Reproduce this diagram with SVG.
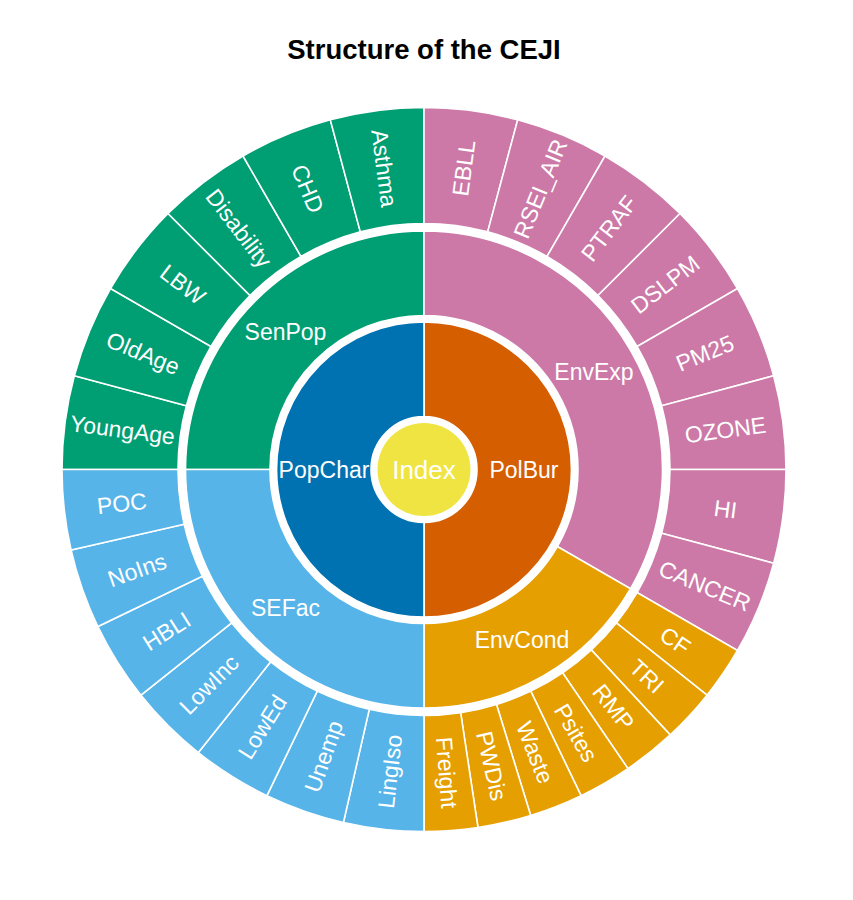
<svg xmlns="http://www.w3.org/2000/svg" xmlns:xlink="http://www.w3.org/1999/xlink" width="853" height="900" viewBox="0 0 853 900">
<style>
.t{font-family:"Liberation Sans",Arial,Helvetica,sans-serif;fill:#fff;text-anchor:middle;font-size:23px}
.s{stroke:#fff;stroke-width:1.6;stroke-linejoin:miter}
.g{fill:#009E73}.p{fill:#CC79A7}.b{fill:#56B4E9}.o{fill:#E69F00}
.title{font-family:"Liberation Sans",Arial,Helvetica,sans-serif;font-weight:bold;font-size:27.5px;fill:#000;text-anchor:middle}
</style>
<defs>
<path id="w15" d="M424,107.5 A362,362 0 0 1 517.692,119.835 L487.669,231.882 A246,246 0 0 0 424,223.5 Z"/>
<path id="w13" d="M424,107.5 A362,362 0 0 1 504.553,116.576 L478.740,229.668 A246,246 0 0 0 424,223.5 Z"/>
<path id="w9" d="M424,107.5 A362,362 0 0 1 477.953,111.543 L460.664,226.248 A246,246 0 0 0 424,223.5 Z"/>
</defs>
<rect width="853" height="900" fill="#fff"/>
<text class="title" x="424" y="59">Structure of the CEJI</text>

<g id="ring4">
<g id="YoungAge"><use href="#w15" class="g s" transform="rotate(270 424 469.5)"/><text class="t" dy="0.35em" transform="rotate(277.5 424 469.5) translate(424 165.5) rotate(90)">YoungAge</text></g>
<g id="OldAge"><use href="#w15" class="g s" transform="rotate(285 424 469.5)"/><text class="t" dy="0.35em" transform="rotate(292.5 424 469.5) translate(424 165.5) rotate(90)">OldAge</text></g>
<g id="LBW"><use href="#w15" class="g s" transform="rotate(300 424 469.5)"/><text class="t" dy="0.35em" transform="rotate(307.5 424 469.5) translate(424 165.5) rotate(90)">LBW</text></g>
<g id="Disability"><use href="#w15" class="g s" transform="rotate(315 424 469.5)"/><text class="t" dy="0.35em" transform="rotate(322.5 424 469.5) translate(424 165.5) rotate(90)">Disability</text></g>
<g id="CHD"><use href="#w15" class="g s" transform="rotate(330 424 469.5)"/><text class="t" dy="0.35em" transform="rotate(337.5 424 469.5) translate(424 165.5) rotate(90)">CHD</text></g>
<g id="Asthma"><use href="#w15" class="g s" transform="rotate(345 424 469.5)"/><text class="t" dy="0.35em" transform="rotate(352.5 424 469.5) translate(424 165.5) rotate(90)">Asthma</text></g>

<g id="EBLL"><use href="#w15" class="p s" transform="rotate(0 424 469.5)"/><text class="t" dy="0.35em" transform="rotate(7.5 424 469.5) translate(424 165.5) rotate(-90)">EBLL</text></g>
<g id="RSEI_AIR"><use href="#w15" class="p s" transform="rotate(15 424 469.5)"/><text class="t" dy="0.35em" transform="rotate(22.5 424 469.5) translate(424 165.5) rotate(-90)">RSEI_AIR</text></g>
<g id="PTRAF"><use href="#w15" class="p s" transform="rotate(30 424 469.5)"/><text class="t" dy="0.35em" transform="rotate(37.5 424 469.5) translate(424 165.5) rotate(-90)">PTRAF</text></g>
<g id="DSLPM"><use href="#w15" class="p s" transform="rotate(45 424 469.5)"/><text class="t" dy="0.35em" transform="rotate(52.5 424 469.5) translate(424 165.5) rotate(-90)">DSLPM</text></g>
<g id="PM25"><use href="#w15" class="p s" transform="rotate(60 424 469.5)"/><text class="t" dy="0.35em" transform="rotate(67.5 424 469.5) translate(424 165.5) rotate(-90)">PM25</text></g>
<g id="OZONE"><use href="#w15" class="p s" transform="rotate(75 424 469.5)"/><text class="t" dy="0.35em" transform="rotate(82.5 424 469.5) translate(424 165.5) rotate(-90)">OZONE</text></g>
<g id="HI"><use href="#w15" class="p s" transform="rotate(90 424 469.5)"/><text class="t" dy="0.35em" transform="rotate(97.5 424 469.5) translate(424 165.5) rotate(-90)">HI</text></g>
<g id="CANCER"><use href="#w15" class="p s" transform="rotate(105 424 469.5)"/><text class="t" dy="0.35em" transform="rotate(112.5 424 469.5) translate(424 165.5) rotate(-90)">CANCER</text></g>

<g id="CF"><use href="#w9" class="o s" transform="rotate(120 424 469.5)"/><text class="t" dy="0.35em" transform="rotate(124.286 424 469.5) translate(424 165.5) rotate(-90)">CF</text></g>
<g id="TRI"><use href="#w9" class="o s" transform="rotate(128.571 424 469.5)"/><text class="t" dy="0.35em" transform="rotate(132.857 424 469.5) translate(424 165.5) rotate(-90)">TRI</text></g>
<g id="RMP"><use href="#w9" class="o s" transform="rotate(137.143 424 469.5)"/><text class="t" dy="0.35em" transform="rotate(141.429 424 469.5) translate(424 165.5) rotate(-90)">RMP</text></g>
<g id="Psites"><use href="#w9" class="o s" transform="rotate(145.714 424 469.5)"/><text class="t" dy="0.35em" transform="rotate(150 424 469.5) translate(424 165.5) rotate(-90)">Psites</text></g>
<g id="Waste"><use href="#w9" class="o s" transform="rotate(154.286 424 469.5)"/><text class="t" dy="0.35em" transform="rotate(158.571 424 469.5) translate(424 165.5) rotate(-90)">Waste</text></g>
<g id="PWDis"><use href="#w9" class="o s" transform="rotate(162.857 424 469.5)"/><text class="t" dy="0.35em" transform="rotate(167.143 424 469.5) translate(424 165.5) rotate(-90)">PWDis</text></g>
<g id="Freight"><use href="#w9" class="o s" transform="rotate(171.429 424 469.5)"/><text class="t" dy="0.35em" transform="rotate(175.714 424 469.5) translate(424 165.5) rotate(-90)">Freight</text></g>

<g id="LingIso"><use href="#w13" class="b s" transform="rotate(180 424 469.5)"/><text class="t" dy="0.35em" transform="rotate(186.429 424 469.5) translate(424 165.5) rotate(90)">LingIso</text></g>
<g id="Unemp"><use href="#w13" class="b s" transform="rotate(192.857 424 469.5)"/><text class="t" dy="0.35em" transform="rotate(199.286 424 469.5) translate(424 165.5) rotate(90)">Unemp</text></g>
<g id="LowEd"><use href="#w13" class="b s" transform="rotate(205.714 424 469.5)"/><text class="t" dy="0.35em" transform="rotate(212.143 424 469.5) translate(424 165.5) rotate(90)">LowEd</text></g>
<g id="LowInc"><use href="#w13" class="b s" transform="rotate(218.571 424 469.5)"/><text class="t" dy="0.35em" transform="rotate(225 424 469.5) translate(424 165.5) rotate(90)">LowInc</text></g>
<g id="HBLI"><use href="#w13" class="b s" transform="rotate(231.429 424 469.5)"/><text class="t" dy="0.35em" transform="rotate(237.857 424 469.5) translate(424 165.5) rotate(90)">HBLI</text></g>
<g id="NoIns"><use href="#w13" class="b s" transform="rotate(244.286 424 469.5)"/><text class="t" dy="0.35em" transform="rotate(250.714 424 469.5) translate(424 165.5) rotate(90)">NoIns</text></g>
<g id="POC"><use href="#w13" class="b s" transform="rotate(257.143 424 469.5)"/><text class="t" dy="0.35em" transform="rotate(263.571 424 469.5) translate(424 165.5) rotate(90)">POC</text></g>
</g>

<g id="ring3">
<g id="SenPop"><path class="g s" d="M185.5,469.5 A238.5,238.5 0 0 1 424,231 L424,315.5 A154,154 0 0 0 270,469.5 Z"/><text class="t" x="285.5" y="331.5" dy="0.35em">SenPop</text></g>
<g id="EnvExp"><path class="p s" d="M424,231 A238.5,238.5 0 0 1 630.547,588.75 L557.368,546.5 A154,154 0 0 0 424,315.5 Z"/><text class="t" x="594" y="371.5" dy="0.35em">EnvExp</text></g>
<g id="EnvCond"><path class="o s" d="M630.547,588.75 A238.5,238.5 0 0 1 424,708 L424,623.5 A154,154 0 0 0 557.368,546.5 Z"/><text class="t" x="522" y="639.5" dy="0.35em">EnvCond</text></g>
<g id="SEFac"><path class="b s" d="M424,708 A238.5,238.5 0 0 1 185.5,469.5 L270,469.5 A154,154 0 0 0 424,623.5 Z"/><text class="t" x="285.5" y="608" dy="0.35em">SEFac</text></g>
</g>

<g id="ring2">
<g id="PolBur"><path fill="#D55E00" class="s" d="M424,322 A147.5,147.5 0 0 1 424,617 L424,522.5 A53,53 0 0 0 424,416.5 Z"/><text class="t" x="524" y="469.5" dy="0.35em">PolBur</text></g>
<g id="PopChar"><path fill="#0072B2" class="s" d="M424,617 A147.5,147.5 0 0 1 424,322 L424,416.5 A53,53 0 0 0 424,522.5 Z"/><text class="t" x="324" y="469.5" dy="0.35em">PopChar</text></g>
</g>

<g id="Index"><circle cx="424" cy="469.5" r="51.5" fill="#fff"/><circle cx="424" cy="469.5" r="46.5" fill="#F0E442"/><text class="t" x="424" y="469.5" dy="0.35em" style="font-size:26px">Index</text></g>
</svg>
